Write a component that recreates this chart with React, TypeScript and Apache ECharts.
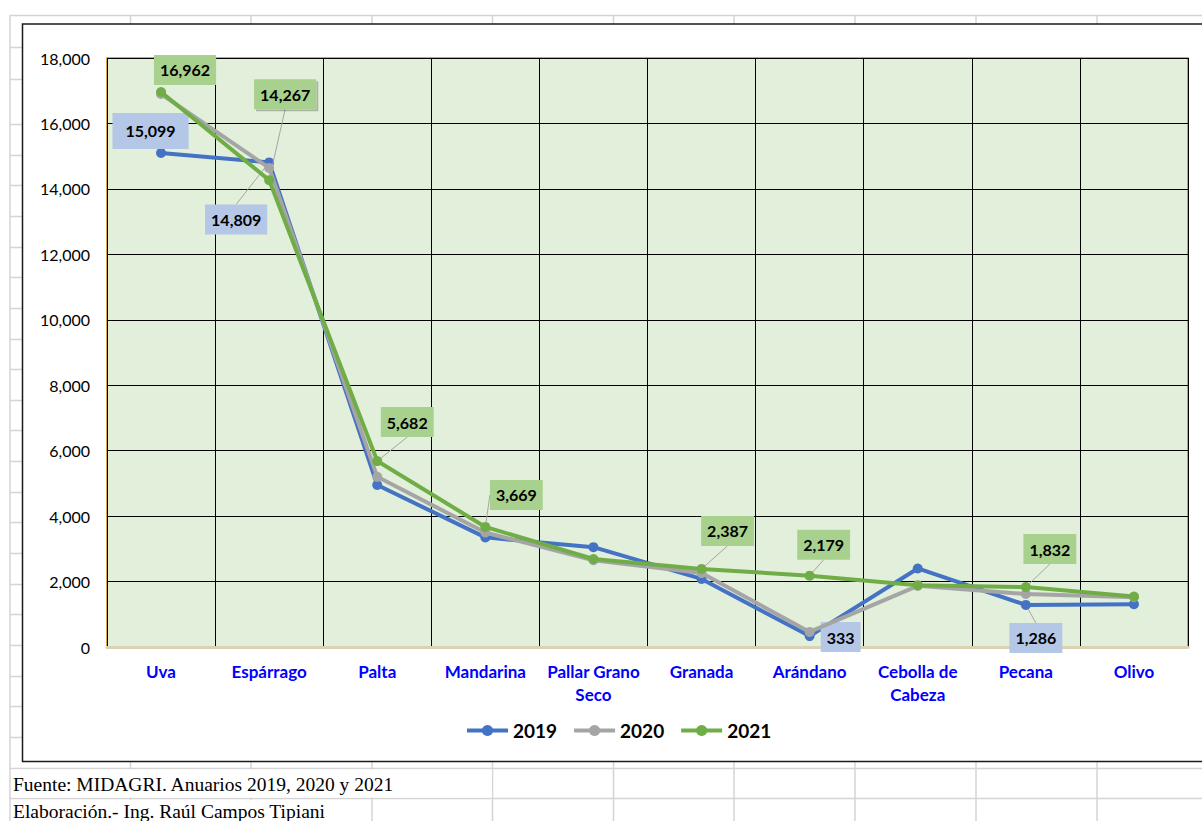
import React, { useEffect, useRef } from "react";
import * as echarts from "echarts";

const categories = [
  "Uva",
  "Espárrago",
  "Palta",
  "Mandarina",
  "Pallar Grano\nSeco",
  "Granada",
  "Arándano",
  "Cebolla de\nCabeza",
  "Pecana",
  "Olivo",
];
const years = ["2019", "2020", "2021"];
const values2019 = [15099, 14809, 4950, 3350, 3050, 2080, 333, 2400, 1286, 1310];
const values2020 = [16900, 14640, 5200, 3500, 2650, 2260, 460, 1870, 1620, 1520];
const values2021 = [16962, 14267, 5682, 3669, 2690, 2387, 2179, 1890, 1832, 1540];
const yMin = 0;
const yMax = 18000;
const yStep = 2000;
const footerLines = [
  "Fuente: MIDAGRI. Anuarios 2019, 2020 y 2021",
  "Elaboración.- Ing. Raúl Campos Tipiani",
];

const seriesColors = ["#4472c4", "#a5a5a5", "#70ad47"];
const labelBoxColors = ["#b4c7e7", "#c9c9c9", "#a9d18e"];

// which points carry a value label, and where the label box sits relative to the point
type Spec = { dx: number; dy: number; line?: boolean; pad?: number[]; shadow?: boolean };
const labelSpecs: Record<number, Record<number, Spec>> = {
  0: {
    0: { dx: -10.5, dy: -22, pad: [8, 13] },
    1: { dx: -33, dy: 57, line: true },
    6: { dx: 31, dy: 1 },
    8: { dx: 10, dy: 33, line: true },
  },
  2: {
    0: { dx: 24, dy: -22 },
    1: { dx: 16, dy: -86, line: true, shadow: true },
    2: { dx: 30, dy: -39, line: true },
    3: { dx: 31, dy: -32, line: true },
    5: { dx: 26, dy: -38, line: true },
    6: { dx: 14, dy: -31, line: true },
    8: { dx: 24, dy: -38, line: true },
  },
};

// spreadsheet backdrop
const colXs = [10, 130.5, 251, 372, 492.5, 613.5, 734, 855, 976, 1097];
const rowYsTop = [15, 46.7, 79];
const rowStart = 124;
const rowStep = 30.65;

const fmt = (v: number) => v.toLocaleString("en-US");

export default function App() {
  const ref = useRef<HTMLDivElement>(null);

  useEffect(() => {
    if (!ref.current) return;
    const chart = echarts.init(ref.current, undefined, { renderer: "svg" });

    const allValues = [values2019, values2020, values2021];
    const series = allValues.map((vals, si) => ({
      name: years[si],
      type: "line",
      data: vals.map((v, di) => {
        const spec = labelSpecs[si] && labelSpecs[si][di];
        if (!spec) return { value: v };
        return {
          value: v,
          label: {
            show: true,
            position: "inside",
            formatter: () => fmt(v),
            color: "#000",
            fontFamily: "Lato",
            fontWeight: "bold",
            fontSize: 16,
            lineHeight: 20,
            backgroundColor: labelBoxColors[si],
            padding: spec.pad || [5, 6],
            ...(spec.shadow
              ? { shadowColor: "rgba(0,0,0,0.25)", shadowOffsetX: 2, shadowOffsetY: 2, shadowBlur: 1 }
              : {}),
          },
          labelLine: {
            show: !!spec.line,
            lineStyle: { color: "#a5a5a5", width: 1 },
          },
        };
      }),
      symbol: "circle",
      symbolSize: 10,
      lineStyle: { width: 4, color: seriesColors[si] },
      itemStyle: { color: seriesColors[si] },
      label: { show: false },
      labelLayout: (params: any) => {
        const spec = labelSpecs[params.seriesIndex] && labelSpecs[params.seriesIndex][params.dataIndex];
        if (!spec || !params.rect) return {};
        const cx = params.rect.x + params.rect.width / 2;
        const cy = params.rect.y + params.rect.height / 2;
        return { x: cx + spec.dx, y: cy + spec.dy, align: "center", verticalAlign: "middle" };
      },
      z: 3 + si,
    }));

    const graphics: any[] = [];
    // horizontal spreadsheet lines
    const rowYs = [...rowYsTop];
    for (let y = rowStart; y < 821; y += rowStep) rowYs.push(y);
    rowYs.forEach((y) =>
      graphics.push({
        type: "line",
        z: -20,
        shape: { x1: 10, y1: Math.round(y) + 0.5, x2: 1202, y2: Math.round(y) + 0.5 },
        style: { stroke: "#d4d4d4", lineWidth: 1.5 },
      })
    );
    colXs.forEach((x) =>
      graphics.push({
        type: "line",
        z: -20,
        shape: { x1: x, y1: 15, x2: x, y2: 821 },
        style: { stroke: "#d4d4d4", lineWidth: 1.5 },
      })
    );
    // cells covered by overflowing footer text
    graphics.push({
      type: "rect",
      z: -19,
      shape: { x: 11, y: 769.5, width: 481, height: 28 },
      style: { fill: "#fff" },
    });
    graphics.push({
      type: "rect",
      z: -19,
      shape: { x: 11, y: 800, width: 360, height: 30 },
      style: { fill: "#fff" },
    });
    // chart frame
    graphics.push({
      type: "rect",
      z: -10,
      shape: { x: 22.5, y: 24, width: 1200, height: 737.5 },
      style: { fill: "#fff", stroke: "#1a1a1a", lineWidth: 1.5 },
    });
    footerLines.forEach((t, i) =>
      graphics.push({
        type: "text",
        z: -5,
        x: 13,
        y: 784 + i * 27.5,
        style: {
          text: t,
          fontFamily: "Liberation Serif",
          fontSize: 19.5,
          fill: "#000",
          align: "left",
          verticalAlign: "middle",
        },
      })
    );

    chart.setOption({
      animation: false,
      backgroundColor: "#fff",
      graphic: { elements: graphics },
      grid: {
        left: 107,
        top: 58,
        width: 1081,
        height: 589,
        show: true,
        backgroundColor: "#e2efda",
        borderColor: "#bf9000",
        borderWidth: 1.5,
        containLabel: false,
      },
      legend: {
        data: years,
        left: 460,
        top: 716,
        itemWidth: 41,
        itemHeight: 14,
        itemGap: 15,
        lineStyle: { width: 4 },
        textStyle: { fontFamily: "Lato", fontWeight: "bold", fontSize: 19, color: "#000" },
      },
      xAxis: {
        type: "category",
        data: categories,
        boundaryGap: true,
        axisLine: { show: true, lineStyle: { color: "#d9d2b4", width: 3 } },
        axisTick: { show: false },
        axisLabel: {
          interval: 0,
          color: "#0000ff",
          fontFamily: "Lato",
          fontWeight: "bold",
          fontSize: 17,
          lineHeight: 23,
          margin: 13,
        },
        splitLine: { show: true, lineStyle: { color: "#000", width: 1 } },
      },
      yAxis: {
        type: "value",
        min: yMin,
        max: yMax,
        interval: yStep,
        axisLine: { show: false },
        axisTick: { show: false },
        axisLabel: {
          formatter: (v: number) => fmt(v),
          color: "#000",
          fontFamily: "Lato",
          fontSize: 16,
          margin: 17,
        },
        splitLine: { show: true, lineStyle: { color: "#000", width: 1 } },
      },
      series,
    });

    return () => chart.dispose();
  }, []);

  return (
    <div
      ref={ref}
      style={{ position: "fixed", left: 0, top: 0, width: 1202, height: 821 }}
    />
  );
}
